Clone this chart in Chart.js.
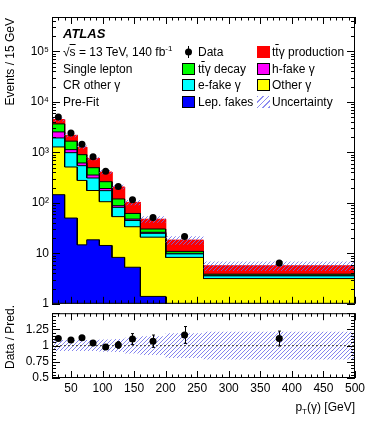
<!DOCTYPE html>
<html>
<head>
<meta charset="utf-8">
<script src="https://cdn.jsdelivr.net/npm/chart.js@4.4.0/dist/chart.umd.min.js"></script>
<style>
  html, body { margin: 0; padding: 0; background: #fff; }
  body { width: 374px; height: 422px; position: relative; overflow: hidden;
         font-family: 'Liberation Sans', Arial, Helvetica, sans-serif; font-size: 12px; color: #000; }
  canvas { position: absolute; left: 0; }
  #mainCanvas { top: 0; }
  #ratioCanvas { top: 303px; }
  .txt { position: absolute; white-space: nowrap; line-height: 14px; transform: translateY(-50%); }
  .ob { text-decoration: overline; }
  sup { font-size: 8px; line-height: 0; vertical-align: 5px; }
  sub { font-size: 8px; line-height: 0; vertical-align: -3px; }
  .box { position: absolute; left: 182px; width: 11px; height: 10px; border: 1px solid #000; transform: translateY(-50%); }
  .box.c2 { left: 257px; }
  .hatch { border: none; width: 13px; height: 12px;
           background: repeating-linear-gradient(135deg, #8c8cf0 0 1px, transparent 1px 4px); }
  .dot { position: absolute; left: 185px; width: 7px; height: 7px; border-radius: 50%; background: #000; transform: translateY(-50%); }
  .bar { position: absolute; left: 188px; width: 1px; height: 12px; background: #000; transform: translateY(-50%); }
  .ytitle { position: absolute; left: 0; top: 0; width: 120px; text-align: right; white-space: nowrap;
            line-height: 14px; transform-origin: 0 0; }
</style>
</head>
<body>
<canvas id="mainCanvas" width="374" height="314"></canvas>
<canvas id="ratioCanvas" width="374" height="119"></canvas>

<!-- Textes du label ATLAS -->
<div class="txt" style="left:63px; top:34px; font-weight:bold; font-style:italic; font-size:13px;">ATLAS</div>
<div class="txt" style="left:63px; top:52px;">√<span class="ob">s</span> = 13 TeV, 140 fb<sup>-1</sup></div>
<div class="txt" style="left:63px; top:69px;">Single lepton</div>
<div class="txt" style="left:63px; top:85px;">CR other γ</div>
<div class="txt" style="left:63px; top:102px;">Pre-Fit</div>

<!-- Légende -->
<div class="bar" style="top:52px;"></div><div class="dot" style="top:52px;"></div>
<div class="txt" style="left:198px; top:52px;">Data</div>
<div class="box c2" style="top:52px; background:#ff0000; border-color:#ff0000;"></div>
<div class="txt" style="left:272px; top:52px;">t<span class="ob">t</span>γ production</div>

<div class="box" style="top:69px; background:#00ff00;"></div>
<div class="txt" style="left:198px; top:69px;">t<span class="ob">t</span>γ decay</div>
<div class="box c2" style="top:69px; background:#ff00ff;"></div>
<div class="txt" style="left:272px; top:69px;">h-fake γ</div>

<div class="box" style="top:85px; background:#00ffff;"></div>
<div class="txt" style="left:198px; top:85px;">e-fake γ</div>
<div class="box c2" style="top:85px; background:#ffff00;"></div>
<div class="txt" style="left:272px; top:85px;">Other γ</div>

<div class="box" style="top:102px; background:#0000ff;"></div>
<div class="txt" style="left:198px; top:102px;">Lep. fakes</div>
<div class="box c2 hatch" style="top:102px;"></div>
<div class="txt" style="left:272px; top:102px;">Uncertainty</div>

<!-- Titres des axes -->
<div class="ytitle" style="transform: translate(3px, 138px) rotate(-90deg);">Events / 15 GeV</div>
<div class="ytitle" style="transform: translate(3px, 425px) rotate(-90deg);">Data / Pred.</div>
<div class="txt" style="right:19px; top:407px;">p<sub>T</sub>(γ) [GeV]</div>

<script>
// Bornes des intervalles en pT(γ) [GeV]
const binEdges = [20, 40, 60, 75, 95, 115, 135, 160, 200, 260, 500];

// Contributions (Events / 15 GeV), du bas vers le haut de l'empilement
const lepFakes      = [145, 50, 14.7, 18.5, 14.3, 8.3, 5.3, 1.4, 0, 0];
const otherGamma    = [1135, 463, 263, 157, 91, 45, 28.3, 19.5, 8.3, 3.16];
const eFakeGamma    = [650, 473, 267, 135, 69, 28, 11.2, 4.0, 1.45, 0.42];
const hFakeGamma    = [610, 146, 72, 45, 18, 6.5, 2.9, 1.2, 0.22, 0.08];
const ttyDecay      = [1120, 535, 283, 141, 70, 31.5, 13.9, 4.2, 0.95, 0.2];
const ttyProduction = [800, 506, 368, 263, 145, 87, 40.4, 17, 7.35, 1.8];

// Données observées et incertitude relative de la prédiction
const dataValues     = [5040, 2430, 1455, 822, 420, 211, 115, 51.3, 21.5, 6.4];
const relUncertainty = [0.085, 0.085, 0.085, 0.085, 0.093, 0.10, 0.12, 0.145, 0.19, 0.215];

// Panneau du rapport Data / Pred.
const ratioValues = [1.109, 1.087, 1.123, 1.041, 0.978, 1.01, 1.10, 1.068, 1.164, 1.109];
const ratioErrors = [0.015, 0.02, 0.025, 0.03, 0.035, 0.05, 0.085, 0.095, 0.13, 0.115];

// Graduations
const yTickValues = [1, 10, 100, 1000, 10000, 100000];
const yTickLabels = ['1', '10', '10²', '10³', '10⁴', '10⁵'];
const ratioTickValues = [0.5, 0.75, 1, 1.25];
const ratioTickLabels = ['0.5', '0.75', '1', '1.25'];
const xTickValues = [50, 100, 150, 200, 250, 300, 350, 400, 450, 500];
const xTickLabels = ['50', '100', '150', '200', '250', '300', '350', '400', '450', '500'];

const layerColors = ['#0000ff', '#ffff00', '#00ffff', '#ff00ff', '#00ff00', '#ff0000'];

Chart.defaults.font.family = "'Liberation Sans', Arial, Helvetica, sans-serif";
Chart.defaults.font.size = 12;
Chart.defaults.color = '#000';

const binCenters = binEdges.slice(0, -1).map((lo, i) => (lo + binEdges[i + 1]) / 2);

// Histogramme en escalier à partir des bornes
function stepPoints(values, floor) {
    const pts = [];
    values.forEach((v, i) => {
        const y = Math.max(v, floor);
        pts.push({ x: binEdges[i], y: y }, { x: binEdges[i + 1], y: y });
    });
    return pts;
}

// Motif hachuré pour l'incertitude
function makeHatch(ctx, color, step) {
    const c = document.createElement('canvas');
    c.width = step; c.height = step;
    const g = c.getContext('2d');
    g.strokeStyle = color;
    g.lineWidth = 1;
    g.beginPath();
    g.moveTo(0, step); g.lineTo(step, 0);
    g.moveTo(-1, 1); g.lineTo(1, -1);
    g.moveTo(step - 1, step + 1); g.lineTo(step + 1, step - 1);
    g.stroke();
    return ctx.createPattern(c, 'repeat');
}

// Cadre et graduations intérieures, style ROOT
function makeFrame(cfg) {
    return {
        id: 'cadre',
        afterDatasetsDraw(chart) {
            const { ctx, chartArea: a, scales: { x, y } } = chart;
            ctx.save();
            ctx.strokeStyle = '#000';
            ctx.lineWidth = 1;
            ctx.beginPath();
            cfg.xTicks.forEach(([v, len]) => {
                const px = Math.round(x.getPixelForValue(v)) + 0.5;
                ctx.moveTo(px, a.bottom); ctx.lineTo(px, a.bottom - len);
                ctx.moveTo(px, a.top); ctx.lineTo(px, a.top + len);
            });
            cfg.yTicks.forEach(([v, len]) => {
                const py = Math.round(y.getPixelForValue(v)) + 0.5;
                ctx.moveTo(a.left, py); ctx.lineTo(a.left + len, py);
                ctx.moveTo(a.right, py); ctx.lineTo(a.right - len, py);
            });
            ctx.stroke();
            ctx.strokeRect(a.left + 0.5, a.top + 0.5, a.width - 1, a.height - 1);
            ctx.restore();
        }
    };
}

const xTicks = [];
for (let v = 20; v <= 500; v += 10) {
    xTicks.push([v, v % 50 === 0 ? 7 : 3.5]);
}
const logTicks = [];
for (let k = 0; k <= 5; k++) {
    for (let m = 1; m <= 9; m++) {
        const v = m * Math.pow(10, k);
        if (v <= 4.8e5) logTicks.push([v, m === 1 ? 8 : 4]);
    }
}
const ratioTicks = [];
for (let i = 0; i <= 20; i++) {
    const v = 0.5 + i * 0.05;
    ratioTicks.push([v, i % 5 === 0 ? 8 : 4]);
}

// Empilement cumulé
let cumul = new Array(binCenters.length).fill(0);
const layers = [lepFakes, otherGamma, eFakeGamma, hFakeGamma, ttyDecay, ttyProduction];
const stackSets = layers.map((arr, k) => {
    cumul = cumul.map((c, i) => c + arr[i]);
    return {
        data: stepPoints(cumul, 0.01),
        backgroundColor: layerColors[k],
        borderColor: k === 5 ? '#ff0000' : '#000',
        borderWidth: 1,
        pointRadius: 0,
        fill: 'start'
    };
});
const totalPred = cumul;

const mainCtx = document.getElementById('mainCanvas').getContext('2d');
const ratioCtx = document.getElementById('ratioCanvas').getContext('2d');

const mainChart = new Chart(mainCtx, {
    type: 'line',
    data: {
        datasets: [
            {
                data: binCenters.map((x, i) => ({ x: x, y: dataValues[i] })),
                showLine: false,
                pointRadius: 3.5,
                pointBackgroundColor: '#000',
                pointBorderWidth: 0
            },
            {
                data: stepPoints(totalPred.map((t, i) => t * (1 + relUncertainty[i])), 0.01),
                borderWidth: 0,
                pointRadius: 0,
                backgroundColor: makeHatch(mainCtx, 'rgba(110,110,235,0.85)', 4),
                fill: '+1'
            },
            {
                data: stepPoints(totalPred.map((t, i) => t * (1 - relUncertainty[i])), 0.01),
                borderWidth: 0,
                pointRadius: 0,
                fill: false
            },
            ...stackSets
        ]
    },
    options: {
        responsive: false,
        animation: false,
        layout: { padding: { left: 0, right: 19, top: 17, bottom: 10 } },
        plugins: { legend: { display: false }, tooltip: { enabled: false } },
        scales: {
            x: { type: 'linear', min: 20, max: 500, display: false },
            y: {
                type: 'logarithmic', min: 1, max: 4.8e5,
                grid: { display: false, drawTicks: false },
                border: { display: false },
                afterBuildTicks: s => { s.ticks = yTickValues.map(v => ({ value: v })); },
                afterFit: s => { s.width = 52; },
                ticks: {
                    padding: 3,
                    callback: v => yTickLabels[yTickValues.indexOf(v)]
                }
            }
        }
    },
    plugins: [makeFrame({ xTicks: xTicks, yTicks: logTicks })]
});

// Barres d'erreur du rapport
const errorBars = {
    id: 'erreurs',
    afterDatasetsDraw(chart) {
        const { ctx, scales: { x, y } } = chart;
        ctx.save();
        ctx.strokeStyle = '#000';
        ctx.lineWidth = 1;
        ctx.beginPath();
        binCenters.forEach((c, i) => {
            const px = Math.round(x.getPixelForValue(c)) + 0.5;
            const y1 = y.getPixelForValue(ratioValues[i] + ratioErrors[i]);
            const y2 = y.getPixelForValue(ratioValues[i] - ratioErrors[i]);
            ctx.moveTo(px, y1); ctx.lineTo(px, y2);
            ctx.moveTo(px - 1.5, y1); ctx.lineTo(px + 1.5, y1);
            ctx.moveTo(px - 1.5, y2); ctx.lineTo(px + 1.5, y2);
        });
        ctx.stroke();
        ctx.restore();
    }
};

const ratioChart = new Chart(ratioCtx, {
    type: 'line',
    data: {
        datasets: [
            {
                data: binCenters.map((x, i) => ({ x: x, y: ratioValues[i] })),
                showLine: false,
                pointRadius: 3.5,
                pointBackgroundColor: '#000',
                pointBorderWidth: 0
            },
            {
                data: [{ x: 20, y: 1 }, { x: 500, y: 1 }],
                borderColor: '#444',
                borderWidth: 1,
                borderDash: [2, 2],
                pointRadius: 0,
                fill: false
            },
            {
                data: stepPoints(relUncertainty.map(u => 1 + u), -10),
                borderWidth: 0,
                pointRadius: 0,
                backgroundColor: makeHatch(ratioCtx, 'rgba(110,110,235,0.85)', 4),
                fill: '+1'
            },
            {
                data: stepPoints(relUncertainty.map(u => 1 - u), -10),
                borderWidth: 0,
                pointRadius: 0,
                fill: false
            }
        ]
    },
    options: {
        responsive: false,
        animation: false,
        layout: { padding: { left: 0, right: 19, top: 0, bottom: 0 } },
        plugins: { legend: { display: false }, tooltip: { enabled: false } },
        scales: {
            x: {
                type: 'linear', min: 20, max: 500,
                grid: { display: false, drawTicks: false },
                border: { display: false },
                afterBuildTicks: s => { s.ticks = xTickValues.map(v => ({ value: v })); },
                afterFit: s => { s.height = 44; },
                ticks: {
                    padding: 3,
                    maxRotation: 0,
                    autoSkip: false,
                    callback: v => xTickLabels[xTickValues.indexOf(v)]
                }
            },
            y: {
                type: 'linear', min: 0.5, max: 1.5,
                grid: { display: false, drawTicks: false },
                border: { display: false },
                afterBuildTicks: s => { s.ticks = ratioTickValues.map(v => ({ value: v })); },
                afterFit: s => { s.width = 52; },
                ticks: {
                    padding: 3,
                    callback: v => ratioTickLabels[ratioTickValues.indexOf(v)]
                }
            }
        }
    },
    plugins: [makeFrame({ xTicks: xTicks, yTicks: ratioTicks }), errorBars]
});
</script>
</body>
</html>
